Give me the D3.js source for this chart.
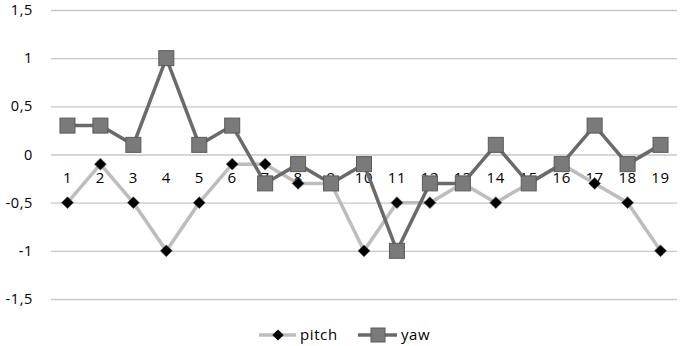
<!DOCTYPE html>
<html>
<head>
<meta charset="utf-8">
<script src="https://cdn.jsdelivr.net/npm/d3@7"></script>
<style>
  body { margin: 0; background: #fff; }
  text { font-family: "Open Sans", sans-serif; fill: #000; letter-spacing: 0.6px; }
</style>
</head>
<body>
<div id="chart"></div>
<script>
// data
var categories = ["1","2","3","4","5","6","7","8","9","10","11","12","13","14","15","16","17","18","19"]
var pitch = [-0.5, -0.1, -0.5, -1, -0.5, -0.1, -0.1, -0.3, -0.3, -1, -0.5, -0.5, -0.3, -0.5, -0.3, -0.1, -0.3, -0.5, -1]
var yaw = [0.3, 0.3, 0.1, 1, 0.1, 0.3, -0.3, -0.1, -0.3, -0.1, -1, -0.3, -0.3, 0.1, -0.3, -0.1, 0.3, -0.1, 0.1]
var yTicks = [-1.5, -1, -0.5, 0, 0.5, 1, 1.5]

const width = 680, height = 346
const margin = {top: 10, right: 3, bottom: 47, left: 51}

var svg = d3.select("#chart")
  .append("svg")
  .attr("width", width)
  .attr("height", height)

var x = d3.scaleBand()
  .domain(categories)
  .range([margin.left, width - margin.right])

var y = d3.scaleLinear()
  .domain([-1.5, 1.5])
  .range([height - margin.bottom, margin.top])

var fmt = d => String(d).replace(".", ",")

// gridlines + y labels
var yAxis = svg.append("g")
  .attr("transform", "translate(" + margin.left + ",0)")
  .call(d3.axisLeft(y).tickValues(yTicks).tickFormat(fmt)
    .tickSize(-(width - margin.left - margin.right)).tickPadding(18))
yAxis.select(".domain").remove()
yAxis.selectAll("line").attr("stroke", "#c8c8c8").attr("stroke-width", 1.3)
yAxis.selectAll("text").style("font-size", "14.5px").attr("fill", "#000")

// category labels sit just under the zero line
svg.append("g")
  .selectAll("text")
  .data(categories)
  .enter()
  .append("text")
  .attr("x", d => x(d) + x.bandwidth() / 2)
  .attr("y", y(0) + 28)
  .attr("text-anchor", "middle")
  .style("font-size", "15px")
  .text(d => d)

var line = d3.line()
  .x((d, i) => x(categories[i]) + x.bandwidth() / 2)
  .y(d => y(d))

// pitch
svg.append("path")
  .datum(pitch)
  .attr("d", line)
  .attr("fill", "none")
  .attr("stroke", "#bdbdbd")
  .attr("stroke-width", 3.5)

svg.append("g")
  .selectAll("path")
  .data(pitch)
  .enter()
  .append("path")
  .attr("d", d3.symbol(d3.symbolDiamond2, 90))
  .attr("transform", (d, i) => "translate(" + (x(categories[i]) + x.bandwidth() / 2) + "," + y(d) + ")")
  .attr("fill", "#000")
  .attr("stroke", "#555")
  .attr("stroke-width", 0.6)

// yaw
svg.append("path")
  .datum(yaw)
  .attr("d", line)
  .attr("fill", "none")
  .attr("stroke", "#6a6a6a")
  .attr("stroke-width", 3.5)

svg.append("g")
  .selectAll("rect")
  .data(yaw)
  .enter()
  .append("rect")
  .attr("x", (d, i) => x(categories[i]) + x.bandwidth() / 2 - 7.5)
  .attr("y", d => y(d) - 7.5)
  .attr("width", 15)
  .attr("height", 15)
  .attr("fill", "#7a7a7a")
  .attr("stroke", "#5a5a5a")
  .attr("stroke-width", 1)

// legend
var legend = svg.append("g").attr("transform", "translate(0,335)")
legend.append("line")
  .attr("x1", 259).attr("x2", 296).attr("y1", 0).attr("y2", 0)
  .attr("stroke", "#bdbdbd").attr("stroke-width", 3.5)
legend.append("path")
  .attr("d", d3.symbol(d3.symbolDiamond2, 80))
  .attr("transform", "translate(278,0)")
  .attr("fill", "#000")
legend.append("text")
  .attr("x", 300).attr("y", 5)
  .style("font-size", "15px")
  .text("pitch")
legend.append("line")
  .attr("x1", 358).attr("x2", 397).attr("y1", 0).attr("y2", 0)
  .attr("stroke", "#6a6a6a").attr("stroke-width", 3.5)
legend.append("rect")
  .attr("x", 371).attr("y", -7).attr("width", 14).attr("height", 14)
  .attr("fill", "#7a7a7a").attr("stroke", "#5a5a5a")
legend.append("text")
  .attr("x", 401).attr("y", 5)
  .style("font-size", "15px")
  .text("yaw")
</script>
</body>
</html>
